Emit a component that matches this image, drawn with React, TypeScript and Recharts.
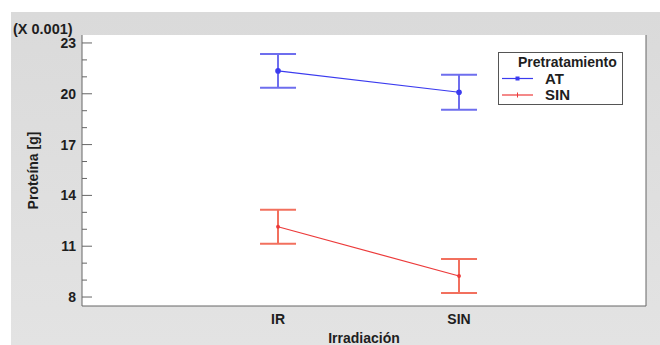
import React from "react";
import {
  LineChart,
  Line,
  XAxis,
  YAxis,
  CartesianGrid,
  ErrorBar,
  Legend,
} from "recharts";

const categories = ["IR", "SIN"];
const atMeans = [21.35, 20.09];
const atErrors = [1.0, 1.03];
const sinMeans = [12.15, 9.24];
const sinErrors = [1.0, 1.0];
const yTicks = [8, 9, 10, 11, 12, 13, 14, 15, 16, 17, 18, 19, 20, 21, 22, 23];
const yLabels = [8, 11, 14, 17, 20, 23];

const data = categories.map((name, i) => ({
  x: i + 1,
  name,
  at: atMeans[i],
  atErr: atErrors[i],
  sin: sinMeans[i],
  sinErr: sinErrors[i],
}));

const FONT = "'Liberation Sans', Arial, sans-serif";
const AXIS = "#666";
const TEXT = "#1e1e1e";
const BLUE = "#3b3bef";
const BLUE_ERR = "#6e6eee";
const RED = "#ec3a3a";
const RED_ERR = "#f2705e";

const yDomain = [7.47, 23.47];
const xDomain = [-0.083, 3.033];

const LeftTick = ({ x, y, payload }: any) => {
  const major = yLabels.includes(payload.value);
  return (
    <g>
      <line x1={x} x2={x + (major ? 10 : 5)} y1={y} y2={y} stroke={AXIS} />
      {major && (
        <text
          x={x - 6}
          y={y}
          dy="0.36em"
          textAnchor="end"
          fontFamily={FONT}
          fontWeight="bold"
          fontSize={14}
          fill={TEXT}
        >
          {payload.value}
        </text>
      )}
    </g>
  );
};

const RightTick = ({ x, y, payload }: any) => {
  const major = yLabels.includes(payload.value);
  return <line x1={x} x2={x - (major ? 10 : 5)} y1={y} y2={y} stroke={AXIS} />;
};

const YLabel = ({ viewBox }: any) => {
  const cx = 33;
  const cy = viewBox.y + viewBox.height / 2;
  return (
    <text
      x={cx}
      y={cy}
      dy="0.36em"
      transform={`rotate(-90 ${cx} ${cy})`}
      textAnchor="middle"
      fontFamily={FONT}
      fontWeight="bold"
      fontSize={14}
      fill={TEXT}
    >
      Proteína [g]
    </text>
  );
};

const renderLegend = ({ payload }: any) => (
  <svg width={125} height={53}>
    <rect x={0.5} y={0.5} width={124} height={52} fill="#fff" stroke="#555" />
    <text x={20} y={15} fontFamily={FONT} fontWeight="bold" fontSize={14} fill={TEXT}>
      Pretratamiento
    </text>
    {(payload || []).map((item: any, i: number) => {
      const cy = 26.5 + i * 16.5;
      return (
        <g key={item.value}>
          <line x1={4} x2={35} y1={cy} y2={cy} stroke={item.color} strokeWidth={1.2} />
          {i === 0 ? (
            <rect x={17.5} y={cy - 2} width={4} height={4} fill={item.color} />
          ) : (
            <line x1={19.5} x2={19.5} y1={cy - 2.5} y2={cy + 2.5} stroke={item.color} />
          )}
          <text
            x={47}
            y={cy}
            dy="0.36em"
            fontFamily={FONT}
            fontWeight="bold"
            fontSize={15}
            fill={TEXT}
          >
            {item.value}
          </text>
        </g>
      );
    })}
  </svg>
);

export default function App() {
  return (
    <div style={{ position: "relative", width: 660, height: 345, background: "#fff" }}>
      <style>{`body{margin:0}`}</style>
      <div
        style={{
          position: "absolute",
          left: 11,
          top: 12,
          right: 0,
          bottom: 0,
          background: "linear-gradient(180deg, #dadada 0%, #e3e3e3 100%)",
        }}
      />
      <div
        style={{
          position: "absolute",
          left: 13,
          top: 21,
          fontFamily: FONT,
          fontWeight: "bold",
          fontSize: 14.5,
          lineHeight: "16px",
          color: TEXT,
        }}
      >
        (X 0.001)
      </div>
      <div style={{ position: "absolute", left: 0, top: 0 }}>
        <LineChart
          width={660}
          height={345}
          data={data}
          margin={{ top: 35, right: 0, bottom: 0, left: 0 }}
        >
          <CartesianGrid horizontal={false} vertical={false} fill="#fff" />
          <XAxis
            dataKey="x"
            type="number"
            domain={xDomain}
            ticks={[1, 2]}
            tickFormatter={(v: number) => categories[v - 1]}
            height={39}
            tickSize={0}
            tickMargin={8}
            tickLine={false}
            axisLine={{ stroke: AXIS }}
            tick={{ fontFamily: FONT, fontWeight: "bold", fontSize: 14, fill: TEXT }}
            label={{
              value: "Irradiación",
              position: "insideBottom",
              offset: 2,
              style: { fontFamily: FONT, fontWeight: "bold", fontSize: 14, fill: TEXT },
            }}
          />
          <XAxis
            xAxisId="top"
            orientation="top"
            type="number"
            domain={xDomain}
            height={0}
            tick={false}
            tickLine={false}
            axisLine={{ stroke: AXIS }}
          />
          <YAxis
            type="number"
            domain={yDomain}
            ticks={yTicks}
            width={82}
            tickSize={0}
            tickMargin={0}
            tickLine={false}
            axisLine={{ stroke: AXIS }}
            tick={<LeftTick />}
            interval={0}
            label={<YLabel />}
          />
          <YAxis
            yAxisId="right"
            orientation="right"
            type="number"
            domain={yDomain}
            ticks={yTicks}
            width={14}
            tickSize={0}
            tickMargin={0}
            tickLine={false}
            axisLine={{ stroke: AXIS }}
            tick={<RightTick />}
            interval={0}
          />
          <Legend
            layout="vertical"
            align="center"
            verticalAlign="middle"
            content={renderLegend}
            wrapperStyle={{ position: "absolute", left: 498, top: 52, width: 125, height: 53 }}
          />
          <Line
            dataKey="at"
            name="AT"
            stroke={BLUE}
            strokeWidth={1.2}
            dot={{ r: 2.2, fill: BLUE, stroke: BLUE }}
            isAnimationActive={false}
          >
            <ErrorBar dataKey="atErr" width={18} stroke={BLUE_ERR} strokeWidth={2} direction="y" />
          </Line>
          <Line
            dataKey="sin"
            name="SIN"
            stroke={RED}
            strokeWidth={1.2}
            dot={{ r: 1.3, fill: RED, stroke: RED }}
            isAnimationActive={false}
          >
            <ErrorBar dataKey="sinErr" width={18} stroke={RED_ERR} strokeWidth={2} direction="y" />
          </Line>
        </LineChart>
      </div>
    </div>
  );
}
